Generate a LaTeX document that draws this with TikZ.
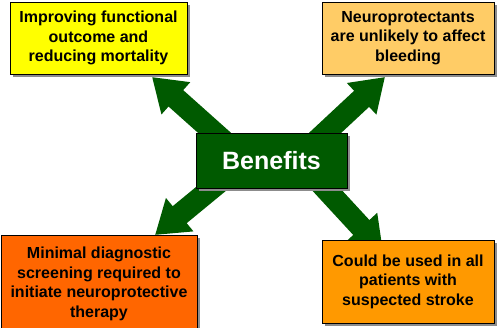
\documentclass[tikz,border=0pt]{standalone}
\usepackage{fontspec}
\setmainfont{Liberation Sans}
\usetikzlibrary{positioning,shadows,arrows.meta,backgrounds}
\definecolor{benefitgreen}{RGB}{0,90,0}
\definecolor{boxyellow}{RGB}{255,255,0}
\definecolor{boxpeach}{RGB}{255,204,102}
\definecolor{boxorange}{RGB}{255,102,0}
\definecolor{boxamber}{RGB}{255,153,0}

\begin{document}
\begin{tikzpicture}[x=1pt, y=-1pt, font=\bfseries\fontsize{16}{19.5}\selectfont]
  \useasboundingbox (0,0) rectangle (497,327);

  \tikzset{box/.style={draw=black, line width=0.8pt, align=center, inner sep=0pt,
      drop shadow={shadow xshift=3pt, shadow yshift=-3pt, fill=black!45, opacity=1}}}
  \tikzset{fat_arrow/.style={draw=benefitgreen, line width=22pt, -{Triangle[length=32pt,width=41pt]}}}

  \node[box, fill=boxyellow, minimum width=177pt, minimum height=72pt] (improve) at (98.5,38)
    {Improving functional\\outcome and\\reducing mortality};
  \node[box, fill=boxpeach, minimum width=172pt, minimum height=72pt] (neuro) at (408,38)
    {Neuroprotectants\\are unlikely to affect\\bleeding};
  \node[box, fill=boxorange, minimum width=196pt, minimum height=98pt] (minimal) at (99,284)
    {Minimal diagnostic\\screening required to\\initiate neuroprotective\\therapy};
  \node[box, fill=boxamber, minimum width=172pt, minimum height=83pt] (could) at (408,281.5)
    {Could be used in all\\patients with\\suspected stroke};
  \node[box, fill=benefitgreen, text=white, font=\bfseries\fontsize{25}{30}\selectfont,
    minimum width=151pt, minimum height=55pt] (benefits) at (271.5,160.5) {Benefits};

  \begin{scope}[on background layer]
    \coordinate (tipA) at (152,77);
    \coordinate (tipB) at (385,77);
    \coordinate (tipC) at (155,235);
    \coordinate (tipD) at (383,251);
    \draw[fat_arrow] ([xshift=-26pt]benefits.center) -- (tipA);
    \draw[fat_arrow] ([xshift=24pt]benefits.center) -- (tipB);
    \draw[fat_arrow] ([xshift=-26pt]benefits.center) -- (tipC);
    \draw[fat_arrow] ([xshift=28pt]benefits.center) -- (tipD);
  \end{scope}
\end{tikzpicture}
\end{document}
